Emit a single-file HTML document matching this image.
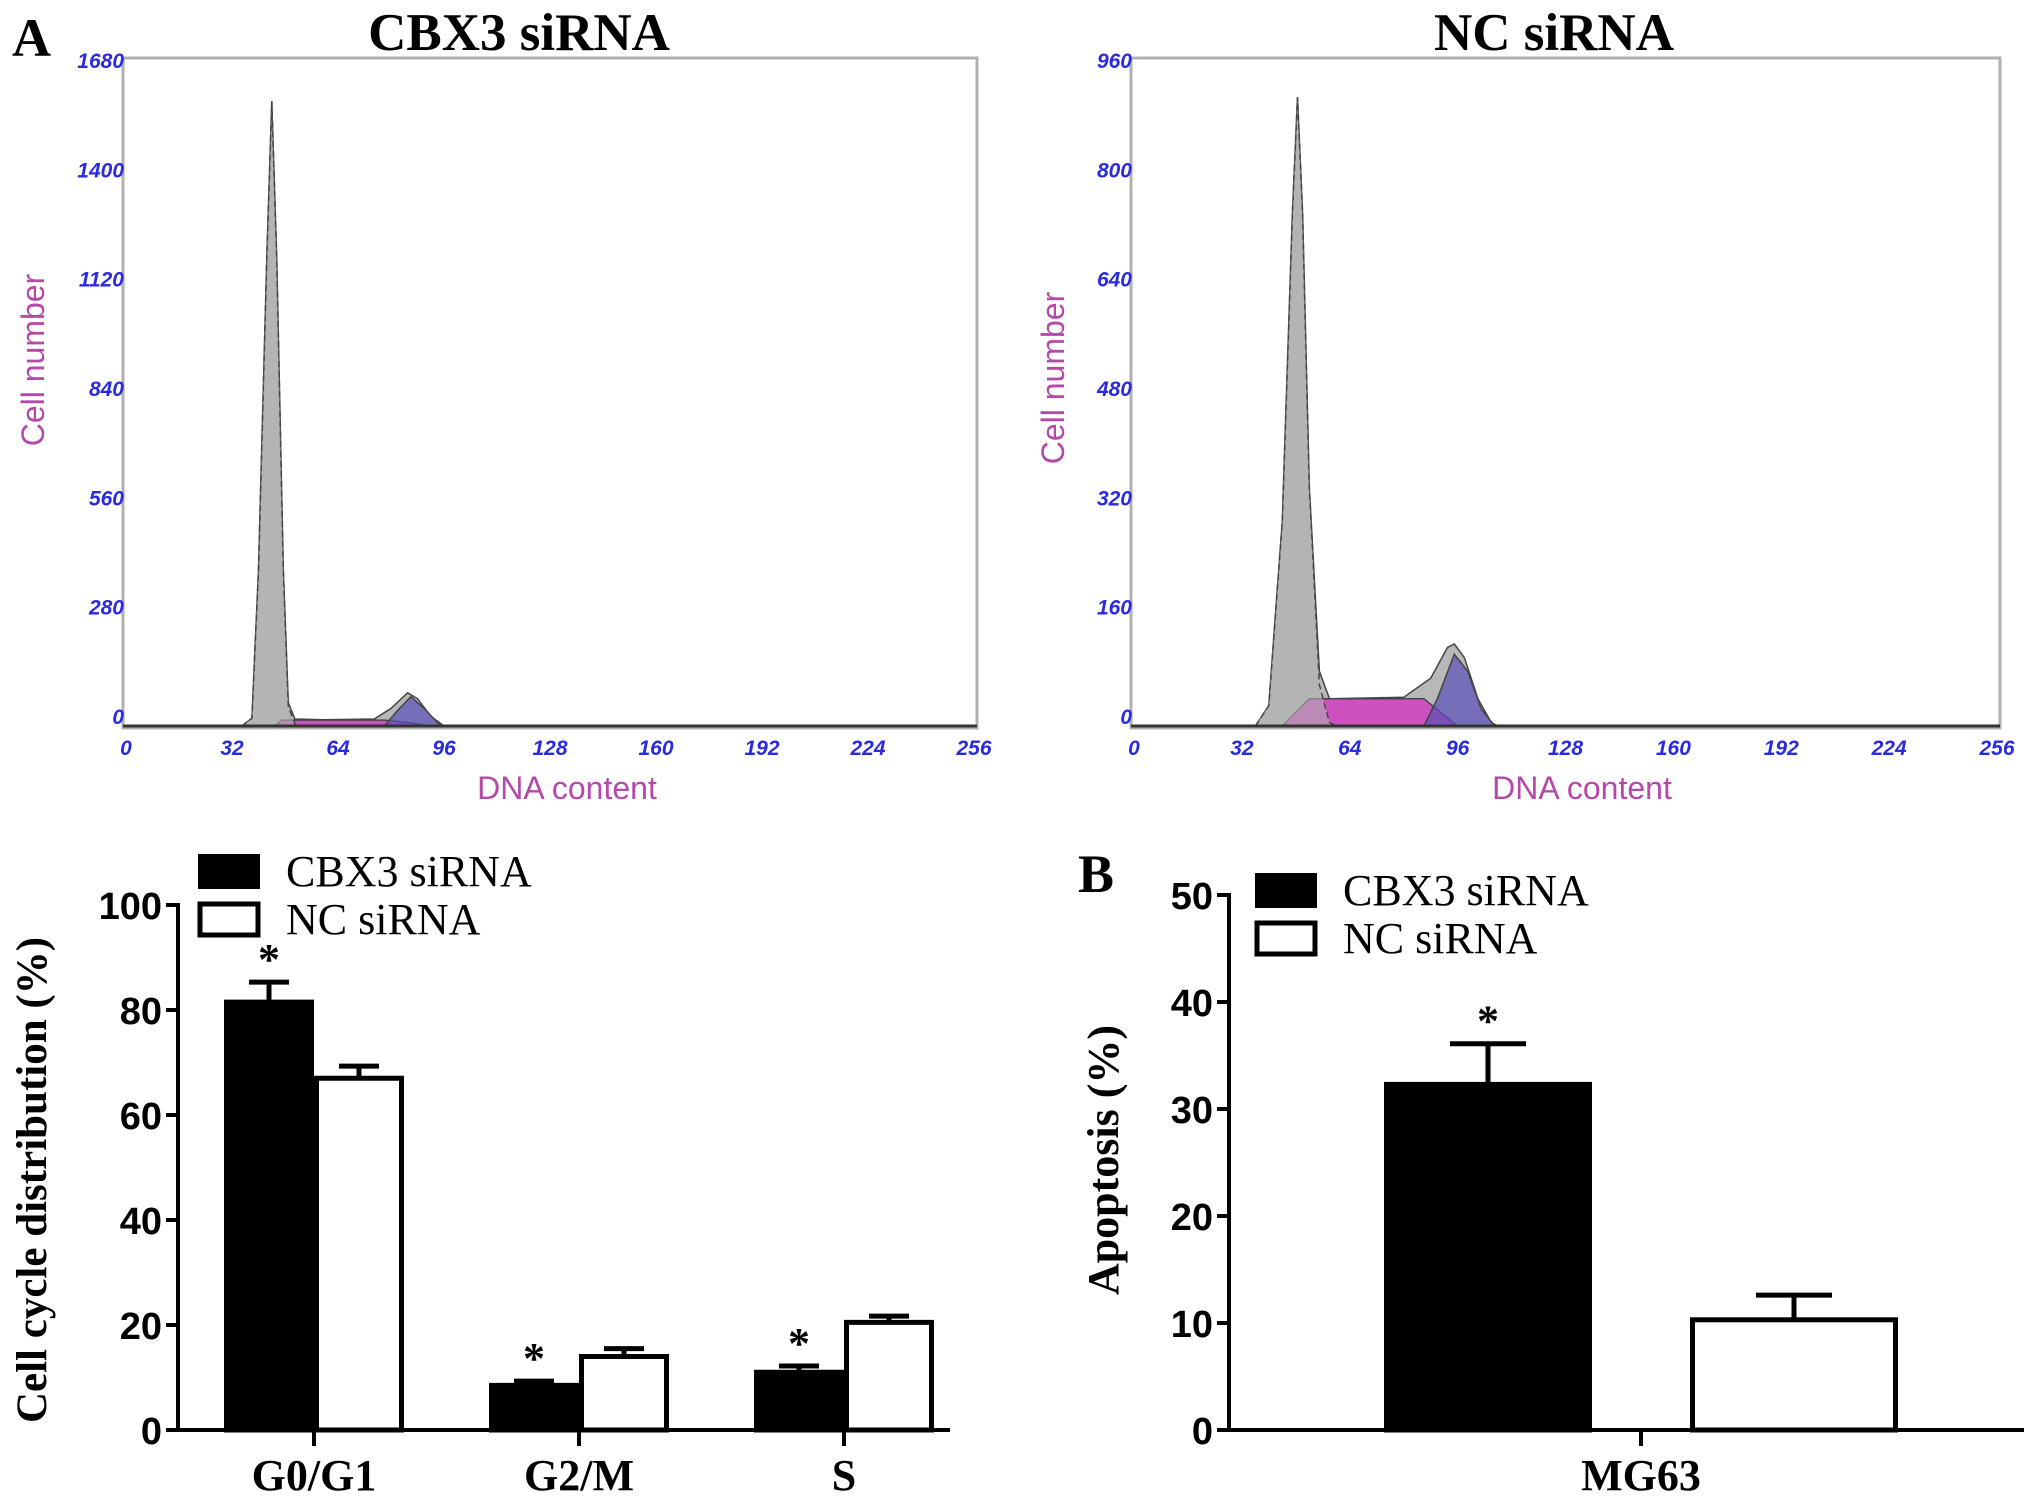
<!DOCTYPE html>
<html><head><meta charset="utf-8"><style>
body{margin:0;background:#fff;}
svg{display:block;}
.tk{font-family:"Liberation Sans",sans-serif;font-style:italic;font-weight:bold;font-size:21px;fill:#2a2ae0;}
.pl{font-family:"Liberation Sans",sans-serif;font-size:32px;fill:#b548a8;}
.ti{font-family:"Liberation Serif",serif;font-weight:bold;font-size:53px;fill:#000;}
.yl{font-family:"Liberation Sans",sans-serif;font-weight:bold;font-size:38px;fill:#000;}
.lg{font-family:"Liberation Serif",serif;font-size:44px;fill:#000;}
.ct{font-family:"Liberation Serif",serif;font-weight:bold;font-size:44px;fill:#000;}
</style></head><body>
<svg id="fig" width="2031" height="1507" viewBox="0 0 2031 1507" xmlns="http://www.w3.org/2000/svg">
<text x="12" y="56" class="ti" style="font-size:54px">A</text>
<text x="519" y="50" class="ti" text-anchor="middle">CBX3 siRNA</text>
<text x="1554" y="50" class="ti" text-anchor="middle">NC siRNA</text>
<text x="1096" y="892" class="ti" style="font-size:54px" text-anchor="middle">B</text>
<g id="h1"></g>
<g id="h2"></g>
<g id="b1"></g>
<g id="b2"></g>
</svg>
<script>
// Histogram data (DNA content, cell count)
const cbxTotal=[[35,0],[38,20],[40,400],[42.5,1200],[44,1600],[45.5,1200],[47.5,400],[49,60],[51,18],[60,16],[75,18],[80,45],[85,85],[88,70],[92,25],[96,0]];
const cbxG1=[[35,0],[38,20],[40,400],[42.5,1200],[44,1600],[45.5,1200],[47.5,400],[49,50],[51,5],[53,0]];
const cbxS=[[45,0],[47,15],[78,15],[86,8],[92,0]];
const cbxG2=[[78,0],[82,40],[86,75],[90,45],[95,0]];
const ncTotal=[[36,0],[40,30],[44,300],[47,750],[48.5,920],[50,750],[52,350],[55,80],[58,40],[80,42],[88,70],[93,115],[95,120],[98,100],[102,40],[106,5],[108,0]];
const ncG1=[[36,0],[40,30],[44,300],[47,750],[48.5,920],[50,750],[52,350],[55,60],[58,5],[60,0]];
const ncS=[[44,0],[52,40],[86,40],[96,0]];
const ncG2=[[86,0],[90,40],[95,105],[99,80],[103,25],[107,0]];
const xTicks=[0,32,64,96,128,160,192,224,256];
const cbxYTicks=[0,280,560,840,1120,1400,1680];
const ncYTicks=[0,160,320,480,640,800,960];
// Bar chart data
const cycleCats=["G0/G1","G2/M","S"];
const cycleCbx=[81.5,8.5,11];
const cycleCbxErr=[3.8,0.8,1.2];
const cycleNc=[67,14,20.5];
const cycleNcErr=[2.3,1.5,1.2];
const cycleTicks=[0,20,40,60,80,100];
const apopCats=["MG63"];
const apopCbx=[32.3];
const apopCbxErr=[3.8];
const apopNc=[10.3];
const apopNcErr=[2.3];
const apopTicks=[0,10,20,30,40,50];

const NS="http://www.w3.org/2000/svg";
function el(p,t,a,txt){const e=document.createElementNS(NS,t);for(const k in a)e.setAttribute(k,a[k]);if(txt!==undefined)e.textContent=txt;p.appendChild(e);return e;}

function hist(gid,box,ymax,yTicks,comps){
  const g=document.getElementById(gid);
  const X=v=>box.x0+(v/256)*(box.x1-box.x0);
  const Y=v=>box.y0-(v/ymax)*(box.y0-box.yt);
  const bg=el(g,'rect',{x:box.x0-3,y:box.yt-12,width:box.x1-box.x0+6,height:box.y0-box.yt+14,fill:'#fff',stroke:'#b0b0b0','stroke-width':3});
  
  
  comps.forEach(c=>{
    let d='M'+c.pts.map(p=>X(p[0]).toFixed(1)+','+Y(p[1]).toFixed(1)).join(' L')+' Z';
    const p=el(g,'path',{d:d,fill:c.fill,'fill-opacity':c.op,stroke:'#444','stroke-width':1.5,'stroke-dasharray':c.dash||'none'});
    
    
  });
  const ax=el(g,'line',{x1:box.x0-3,x2:box.x1+3,y1:box.y0,y2:box.y0,stroke:'#333','stroke-width':3});
  
  
  xTicks.forEach(t=>{
    const tx=el(g,'text',{x:X(t),y:box.y0+29,class:'tk','text-anchor':'middle'},t);
    
    
  });
  yTicks.forEach(t=>{
    const tx=el(g,'text',{x:box.x0-2,y:Y(t)-2,class:'tk','text-anchor':'end'},t);
    
    
  });
  const yl=el(g,'text',{x:0,y:0,class:'pl','text-anchor':'middle',transform:`translate(${box.ylx},${box.yly}) rotate(-90)`},'Cell number');
  
  
  const xl=el(g,'text',{x:box.xlx,y:799,class:'pl','text-anchor':'middle'},'DNA content');
  
  
}
hist('h1',{x0:126,x1:974,y0:726,yt:70,ylx:44,yly:360,xlx:567},1680,cbxYTicks,[
 {pts:cbxTotal,fill:'#b8b8b8',op:1,name:'total-fit-area'},
 {pts:cbxS,fill:'#d040c0',op:0.85,name:'s-phase-area'},
 {pts:cbxG2,fill:'#5a4fb8',op:0.7,name:'g2-phase-area'},
 {pts:cbxG1,fill:'#b0b0b0',op:0.6,dash:'6,4',name:'g1-phase-area'}]);
hist('h2',{x0:1134,x1:1997,y0:726,yt:70,ylx:1064,yly:378,xlx:1582},960,ncYTicks,[
 {pts:ncTotal,fill:'#b8b8b8',op:1,name:'total-fit-area'},
 {pts:ncS,fill:'#d040c0',op:0.85,name:'s-phase-area'},
 {pts:ncG2,fill:'#5a4fb8',op:0.7,name:'g2-phase-area'},
 {pts:ncG1,fill:'#b0b0b0',op:0.6,dash:'6,4',name:'g1-phase-area'}]);

function bars(gid,o){
  const g=document.getElementById(gid);
  const Y=v=>o.y0-(v/o.ymax)*(o.y0-o.yt);
  o.ticks.forEach(t=>{
    const l=el(g,'line',{x1:o.ax-12,x2:o.ax,y1:Y(t),y2:Y(t),stroke:'#000','stroke-width':4});
    
    
    const tx=el(g,'text',{x:o.ax-16,y:Y(t)+14,class:'yl','text-anchor':'end'},t);
    
    
  });
  o.cats.forEach((c,i)=>{
    const cx=o.cx0+i*o.step;
    [[o.cbx,o.cbxE,'#000',cx-o.bw-o.gap,'cbx3'],[o.nc,o.ncE,'#fff',cx+o.gap,'nc']].forEach(s=>{
      const v=s[0][i],e=s[1][i];
      const top=Y(v);
      const ex=s[3]+o.bw/2;
      const el1=el(g,'line',{x1:ex,x2:ex,y1:top,y2:Y(v+e),stroke:'#000','stroke-width':5});
      
      
      const cap=el(g,'line',{x1:ex-o.cap,x2:ex+o.cap,y1:Y(v+e),y2:Y(v+e),stroke:'#000','stroke-width':5});
      
      
      const r=el(g,'rect',{x:s[3]+2.5,y:top,width:o.bw-5,height:o.y0-top,fill:s[2],stroke:'#000','stroke-width':5});
      
      
      if(s[4]==='cbx3'){
        const st=el(g,'text',{x:ex,y:Y(v+e)-8,class:'lg','text-anchor':'middle',style:'font-size:44px;font-weight:bold'},'*');
        
        
      }
    });
    const tk=el(g,'line',{x1:cx,x2:cx,y1:o.y0,y2:o.y0+16,stroke:'#000','stroke-width':4});
    
    
    const lb=el(g,'text',{x:cx,y:o.y0+60,class:'ct','text-anchor':'middle'},c);
    
    
  });
  const ya=el(g,'line',{x1:o.ax,x2:o.ax,y1:o.yt-2,y2:o.y0+2,stroke:'#000','stroke-width':4});
  
  
  const xa=el(g,'line',{x1:o.ax,x2:o.xend,y1:o.y0,y2:o.y0,stroke:'#000','stroke-width':4});
  
  
  const yt=el(g,'text',{x:0,y:0,class:'ct','text-anchor':'middle',style:'font-size:'+o.tfs+'px',transform:`translate(${o.ytx},${o.yty}) rotate(-90)`},o.title);
  
  
  const lb1=el(g,'rect',{x:o.lx+2,y:o.ly+2,width:58,height:31,fill:'#000',stroke:'#000','stroke-width':4});
  
  
  const lt1=el(g,'text',{x:o.lx+88,y:o.ly+32,class:'lg'},'CBX3 siRNA');
  
  
  const lb2=el(g,'rect',{x:o.lx+2,y:o.ly+50,width:58,height:31,fill:'#fff',stroke:'#000','stroke-width':5});
  
  
  const lt2=el(g,'text',{x:o.lx+88,y:o.ly+80,class:'lg'},'NC siRNA');
  
  
}
bars('b1',{cats:cycleCats,cbx:cycleCbx,cbxE:cycleCbxErr,nc:cycleNc,ncE:cycleNcErr,ticks:cycleTicks,ymax:100,
 y0:1430,yt:905,ax:178,xend:950,cx0:314,step:265,bw:90,gap:0,cap:20,ytx:46,yty:1180,tfs:43,title:'Cell cycle distribution (%)',lx:198,ly:854});
bars('b2',{cats:apopCats,cbx:apopCbx,cbxE:apopCbxErr,nc:apopNc,ncE:apopNcErr,ticks:apopTicks,ymax:50,
 y0:1430,yt:895,ax:1229,xend:2024,cx0:1641,step:0,bw:208,gap:49,cap:38,ytx:1118,yty:1160,tfs:44,title:'Apoptosis (%)',lx:1255,ly:873});
</script>
</body></html>
